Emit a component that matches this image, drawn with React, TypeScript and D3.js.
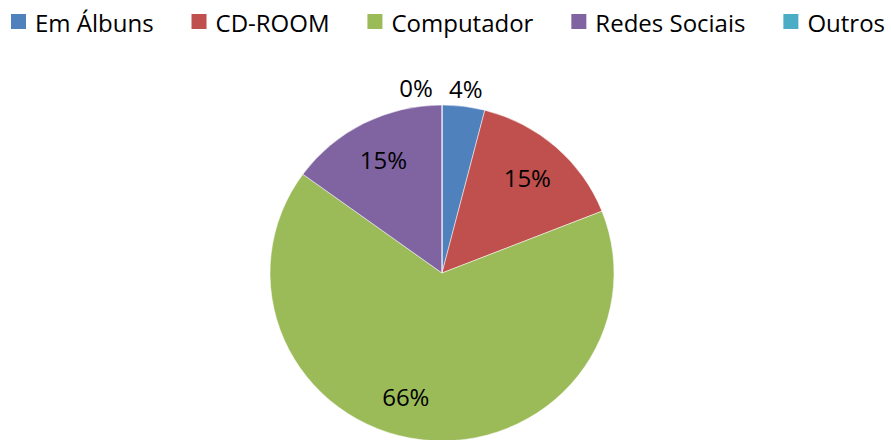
import React, { useEffect, useRef } from 'react';
import * as d3 from 'd3';

// share of photo storage answers (percent)
const categories = ['Em Álbuns', 'CD-ROOM', 'Computador', 'Redes Sociais', 'Outros'];
const values = [4, 15, 66, 15, 0];
const colors = ['#4F81BD', '#C0504D', '#9BBB59', '#8064A2', '#4BACC6'];

const W = 891;
const H = 440;
const FONT = '"Open Sans", sans-serif';

export default function App() {
  const ref = useRef<SVGSVGElement>(null);

  useEffect(() => {
    const svg = d3.select(ref.current);
    svg.selectAll('*').remove();

    // pie is a touch squashed vertically, like the original
    const cx = 442, cy = 273, rx = 172, ry = 168;
    const pie = d3.pie<number>().sort(null).value((d) => d);
    const arcs = pie(values);
    const arc = d3.arc<d3.PieArcDatum<number>>().innerRadius(0).outerRadius(1);

    svg.append('g')
      .attr('transform', `translate(${cx},${cy}) scale(${rx},${ry})`)
      .selectAll('path')
      .data(arcs)
      .join('path')
      .attr('d', arc)
      .attr('fill', (d, i) => colors[i])
      .attr('stroke', '#fff')
      .attr('stroke-opacity', 0.5)
      .attr('stroke-width', 1)
      .attr('vector-effect', 'non-scaling-stroke');

    // labels: inside for big slices, outside above for small ones
    const labels = svg.append('g')
      .attr('font-family', FONT)
      .attr('font-size', 24)
      .attr('fill', '#000')
      .attr('text-anchor', 'middle');

    arcs.forEach((d, i) => {
      const mid = (d.startAngle + d.endAngle) / 2;
      const small = d.data < 8;
      const k = small ? 1.1 : 0.75;
      let x = cx + Math.sin(mid) * rx * k;
      const y = cy - Math.cos(mid) * ry * k;
      if (small && d.data === 0) x -= 26;
      if (i === 2) x -= 20; // excel nudges the big label left
      labels.append('text')
        .attr('x', x)
        .attr('y', y)
        .attr('dy', '0.35em')
        .text(`${d.data}%`);
    });

    // legend, laid out by measured text widths, spread to fill the top row
    const legend = svg.append('g')
      .attr('font-family', FONT)
      .attr('font-size', 24)
      .attr('fill', '#000');
    const items = legend.selectAll('g')
      .data(categories)
      .join('g');
    items.append('rect')
      .attr('width', 15)
      .attr('height', 15)
      .attr('y', 14)
      .attr('fill', (d, i) => colors[i]);
    const texts = items.append('text')
      .attr('x', 24)
      .attr('y', 32)
      .text((d) => d);

    const widths = texts.nodes().map((n) => (n as SVGTextElement).getComputedTextLength());
    const left = 11, right = 885;
    const used = d3.sum(widths) + 24 * widths.length;
    const gap = Math.max(20, (right - left - used) / (widths.length - 1));
    let pos = left;
    items.each(function (d, i) {
      d3.select(this).attr('transform', `translate(${pos},0)`);
      pos += 24 + widths[i] + gap;
    });
  }, []);

  return (
    <svg
      ref={ref}
      width={W}
      height={H}
      style={{ position: 'absolute', left: 0, top: 0, background: '#fff' }}
    />
  );
}
